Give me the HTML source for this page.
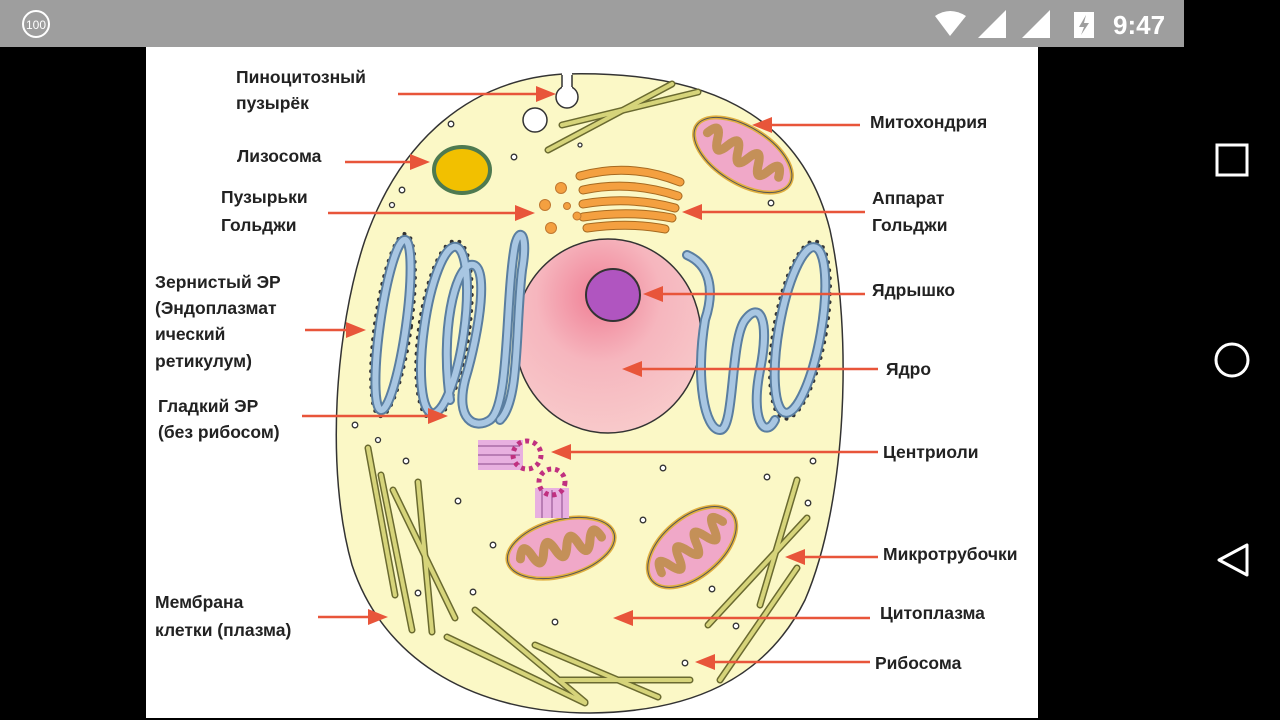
<!DOCTYPE html>
<html><head><meta charset="utf-8"><style>
html,body{margin:0;padding:0;width:1280px;height:720px;overflow:hidden;background:#000}
svg{display:block}
text{font-family:"Liberation Sans",sans-serif}
</style></head><body>
<svg width="1280" height="720" viewBox="0 0 1280 720">
<defs>
<radialGradient id="nuc" cx="0.45" cy="0.3" r="0.75">
<stop offset="0" stop-color="#f07f95"/><stop offset="0.45" stop-color="#f6b6be"/><stop offset="1" stop-color="#f8cccc"/>
</radialGradient>
<g id="mito">
<ellipse rx="55" ry="28" fill="#f0a8c8" stroke="#e0b040" stroke-width="4"/>
<ellipse rx="55" ry="28" fill="none" stroke="#555" stroke-width="1"/>
<path d="M-42,0 q6,-18 12,0 q6,18 12,0 q6,-18 12,0 q6,18 12,0 q6,-18 12,0 q6,18 12,0 q6,-18 12,0" fill="none" stroke="#c49058" stroke-width="9" stroke-linecap="round"/>
</g>
</defs>
<rect x="0" y="0" width="1184" height="47" fill="#9e9e9e"/>
<rect x="146" y="47" width="892" height="671" fill="#fff"/>
<circle cx="36" cy="24" r="13" fill="none" stroke="#fff" stroke-width="2"/>
<text x="36" y="29" font-size="12" fill="#fff" text-anchor="middle">100</text>
<path d="M935,16 Q950,6 966,16 L950,36 Z" fill="#fff"/>
<path d="M978,38 L1006,38 L1006,10 Z" fill="#fff"/>
<path d="M1022,38 L1050,38 L1050,10 Z" fill="#fff"/>
<rect x="1074" y="12" width="20" height="26" fill="#fff"/>
<path d="M1086,15 L1079,27 L1084,27 L1081,35 L1089,23 L1084,23 Z" fill="#9e9e9e"/>
<text x="1113" y="34" font-size="26" fill="#fff" font-weight="bold">9:47</text>
<rect x="1217" y="145" width="30" height="30" fill="none" stroke="#fff" stroke-width="3"/>
<circle cx="1232" cy="360" r="16" fill="none" stroke="#fff" stroke-width="3"/>
<path d="M1247,545 L1247,575 L1219,560 Z" fill="none" stroke="#fff" stroke-width="3" stroke-linejoin="round"/>

<path d="M563,74 C700,70 800,110 830,230 C852,330 848,500 805,600 C765,680 690,712 590,713 C480,713 385,665 352,565 C325,470 335,330 365,240 C400,140 470,80 563,74 Z" fill="#fbf8c6" stroke="#333" stroke-width="1.5"/>
<circle cx="567" cy="97" r="11" fill="#fff" stroke="#333" stroke-width="1.5"/>
<rect x="562" y="72" width="10" height="16" fill="#fff"/>
<path d="M562,75 L562,87 M572,75 L572,87" stroke="#333" stroke-width="1.5"/>
<circle cx="535" cy="120" r="12" fill="#fff" stroke="#333" stroke-width="1.5"/>

<g stroke-linecap="round">
<g stroke="#6a6a30" stroke-width="7">
<line x1="548" y1="150" x2="672" y2="84"/><line x1="562" y1="125" x2="698" y2="92"/>
<line x1="368" y1="448" x2="395" y2="595"/><line x1="381" y1="475" x2="412" y2="630"/>
<line x1="393" y1="490" x2="455" y2="618"/><line x1="418" y1="482" x2="432" y2="632"/>
<line x1="447" y1="637" x2="585" y2="703"/><line x1="475" y1="610" x2="585" y2="702"/>
<line x1="535" y1="645" x2="658" y2="697"/><line x1="560" y1="680" x2="690" y2="680"/>
<line x1="797" y1="480" x2="760" y2="605"/><line x1="807" y1="518" x2="708" y2="625"/>
<line x1="797" y1="568" x2="720" y2="680"/>
</g>
<g stroke="#d6d47a" stroke-width="4">
<line x1="548" y1="150" x2="672" y2="84"/><line x1="562" y1="125" x2="698" y2="92"/>
<line x1="368" y1="448" x2="395" y2="595"/><line x1="381" y1="475" x2="412" y2="630"/>
<line x1="393" y1="490" x2="455" y2="618"/><line x1="418" y1="482" x2="432" y2="632"/>
<line x1="447" y1="637" x2="585" y2="703"/><line x1="475" y1="610" x2="585" y2="702"/>
<line x1="535" y1="645" x2="658" y2="697"/><line x1="560" y1="680" x2="690" y2="680"/>
<line x1="797" y1="480" x2="760" y2="605"/><line x1="807" y1="518" x2="708" y2="625"/>
<line x1="797" y1="568" x2="720" y2="680"/>
</g>
</g>

<ellipse cx="462" cy="170" rx="28" ry="23" fill="#f2c000" stroke="#4e7a50" stroke-width="4"/>
<g fill="none" stroke-linecap="round">
<g stroke="#a66a20" stroke-width="9">
<path d="M580,176 Q630,162 680,182"/><path d="M583,190 Q630,180 678,196"/><path d="M583,204 Q630,196 675,208"/><path d="M583,217 Q630,210 672,218"/><path d="M587,228 Q630,222 665,229"/>
</g>
<g stroke="#f4a040" stroke-width="7">
<path d="M580,176 Q630,162 680,182"/><path d="M583,190 Q630,180 678,196"/><path d="M583,204 Q630,196 675,208"/><path d="M583,217 Q630,210 672,218"/><path d="M587,228 Q630,222 665,229"/>
</g>
</g>
<g fill="#f4a040" stroke="#c07830" stroke-width="1">
<circle cx="561" cy="188" r="5.5"/><circle cx="545" cy="205" r="5.5"/><circle cx="567" cy="206" r="3.5"/><circle cx="577" cy="216" r="4"/><circle cx="551" cy="228" r="5.5"/>
</g>
<use href="#mito" transform="translate(743,155) rotate(32)"/>
<use href="#mito" transform="translate(561,548) rotate(-15)"/>
<use href="#mito" transform="translate(692,547) rotate(-40) scale(0.95,1.05)"/>

<ellipse cx="608" cy="336" rx="93" ry="97" fill="url(#nuc)" stroke="#333" stroke-width="1.5"/>
<ellipse cx="613" cy="295" rx="27" ry="26" fill="#b055c0" stroke="#333" stroke-width="2"/>

<g fill="none" stroke-linecap="round">
<g stroke="#333" stroke-width="4" stroke-dasharray="0 8">
<ellipse cx="393" cy="325" rx="18" ry="92" transform="rotate(8 393 325)"/>
<ellipse cx="444" cy="330" rx="25" ry="90" transform="rotate(8 444 330)"/>
<ellipse cx="800" cy="330" rx="26" ry="90" transform="rotate(10 800 330)"/>
</g>
<g stroke="#5a7ea0" stroke-width="10">
<ellipse cx="393" cy="325" rx="13" ry="86" transform="rotate(8 393 325)"/>
<ellipse cx="444" cy="330" rx="20" ry="84" transform="rotate(8 444 330)"/>
<ellipse cx="800" cy="330" rx="21" ry="84" transform="rotate(10 800 330)"/>
<path d="M450,400 C440,330 455,270 470,265 C490,260 480,330 465,380 C455,420 475,430 490,420 C510,405 505,300 515,245 C520,225 528,235 522,270 C515,330 520,400 500,420"/>
<path d="M687,255 C710,265 715,290 705,320 C695,380 705,430 720,430 C735,430 730,340 745,320 C760,300 770,320 760,370 C750,420 765,440 775,420"/>
</g>
<g stroke="#a8c6e2" stroke-width="6">
<ellipse cx="393" cy="325" rx="13" ry="86" transform="rotate(8 393 325)"/>
<ellipse cx="444" cy="330" rx="20" ry="84" transform="rotate(8 444 330)"/>
<ellipse cx="800" cy="330" rx="21" ry="84" transform="rotate(10 800 330)"/>
<path d="M450,400 C440,330 455,270 470,265 C490,260 480,330 465,380 C455,420 475,430 490,420 C510,405 505,300 515,245 C520,225 528,235 522,270 C515,330 520,400 500,420"/>
<path d="M687,255 C710,265 715,290 705,320 C695,380 705,430 720,430 C735,430 730,340 745,320 C760,300 770,320 760,370 C750,420 765,440 775,420"/>
</g>
</g>

<g>
<rect x="478" y="440" width="45" height="30" fill="#e8b0e0"/>
<g stroke="#8a4a8a" stroke-width="1"><line x1="478" y1="446" x2="520" y2="446"/><line x1="478" y1="455" x2="520" y2="455"/><line x1="478" y1="464" x2="520" y2="464"/></g>
<circle cx="527" cy="455" r="14" fill="none" stroke="#c03080" stroke-width="5" stroke-dasharray="4 4"/>
<rect x="535" y="488" width="34" height="30" fill="#e8b0e0"/>
<g stroke="#8a4a8a" stroke-width="1"><line x1="542" y1="490" x2="542" y2="518"/><line x1="552" y1="490" x2="552" y2="518"/><line x1="562" y1="490" x2="562" y2="518"/></g>
<circle cx="552" cy="482" r="13" fill="none" stroke="#c03080" stroke-width="5" stroke-dasharray="4 4"/>
</g>

<g fill="#fff" stroke="#333" stroke-width="1.3">
<circle cx="451" cy="124" r="2.8"/><circle cx="514" cy="157" r="2.8"/><circle cx="402" cy="190" r="2.8"/><circle cx="392" cy="205" r="2.5"/><circle cx="580" cy="145" r="2"/><circle cx="771" cy="203" r="2.8"/>
<circle cx="355" cy="425" r="2.8"/><circle cx="378" cy="440" r="2.5"/><circle cx="406" cy="461" r="2.8"/><circle cx="458" cy="501" r="2.8"/><circle cx="493" cy="545" r="2.8"/><circle cx="418" cy="593" r="2.8"/><circle cx="473" cy="592" r="2.8"/><circle cx="555" cy="622" r="2.8"/>
<circle cx="663" cy="468" r="2.8"/><circle cx="643" cy="520" r="2.8"/><circle cx="767" cy="477" r="2.8"/><circle cx="813" cy="461" r="2.8"/><circle cx="808" cy="503" r="2.8"/><circle cx="712" cy="589" r="2.8"/><circle cx="736" cy="626" r="2.8"/><circle cx="685" cy="663" r="2.8"/>
</g>

<g stroke="#e8553a" stroke-width="2.5">
<line x1="398" y1="94" x2="540" y2="94"/><line x1="860" y1="125" x2="768" y2="125"/>
<line x1="345" y1="162" x2="414" y2="162"/><line x1="328" y1="213" x2="519" y2="213"/>
<line x1="865" y1="212" x2="698" y2="212"/><line x1="305" y1="330" x2="350" y2="330"/>
<line x1="865" y1="294" x2="659" y2="294"/><line x1="878" y1="369" x2="638" y2="369"/>
<line x1="302" y1="416" x2="432" y2="416"/><line x1="878" y1="452" x2="567" y2="452"/>
<line x1="878" y1="557" x2="801" y2="557"/><line x1="870" y1="618" x2="629" y2="618"/>
<line x1="318" y1="617" x2="372" y2="617"/><line x1="870" y1="662" x2="711" y2="662"/>
</g>
<g fill="#e8553a">
<path d="M556,94 l-20,-8 v16z"/><path d="M752,125 l20,-8 v16z"/>
<path d="M430,162 l-20,-8 v16z"/><path d="M535,213 l-20,-8 v16z"/>
<path d="M682,212 l20,-8 v16z"/><path d="M366,330 l-20,-8 v16z"/>
<path d="M643,294 l20,-8 v16z"/><path d="M622,369 l20,-8 v16z"/>
<path d="M448,416 l-20,-8 v16z"/><path d="M551,452 l20,-8 v16z"/>
<path d="M785,557 l20,-8 v16z"/><path d="M613,618 l20,-8 v16z"/>
<path d="M388,617 l-20,-8 v16z"/><path d="M695,662 l20,-8 v16z"/>
</g>

<g font-size="17.5" font-weight="bold" fill="#222">
<text x="236" y="83">Пиноцитозный</text><text x="236" y="109">пузырёк</text>
<text x="237" y="162">Лизосома</text>
<text x="221" y="203">Пузырьки</text><text x="221" y="231">Гольджи</text>
<text x="155" y="288">Зернистый ЭР</text><text x="155" y="314">(Эндоплазмат</text><text x="155" y="340">ический</text><text x="155" y="367">ретикулум)</text>
<text x="158" y="412">Гладкий ЭР</text><text x="158" y="438">(без рибосом)</text>
<text x="155" y="608">Мембрана</text><text x="155" y="636">клетки (плазма)</text>
<text x="870" y="128">Митохондрия</text>
<text x="872" y="204">Аппарат</text><text x="872" y="231">Гольджи</text>
<text x="872" y="296">Ядрышко</text>
<text x="886" y="375">Ядро</text>
<text x="883" y="458">Центриоли</text>
<text x="883" y="560">Микротрубочки</text>
<text x="880" y="619">Цитоплазма</text>
<text x="875" y="669">Рибосома</text>
</g>
</svg>
</body></html>
